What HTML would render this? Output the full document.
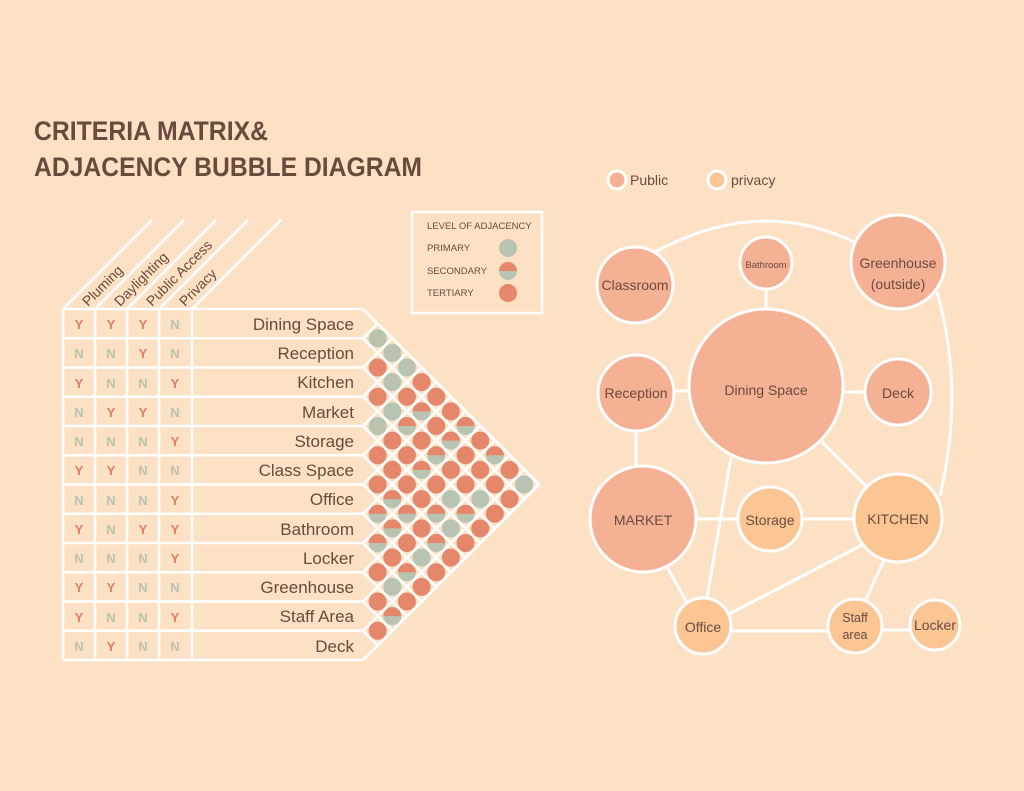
<!DOCTYPE html>
<html><head><meta charset="utf-8"><style>
html,body{margin:0;padding:0;background:#fde1c4;width:1024px;height:791px;overflow:hidden;}
svg{display:block;font-family:"Liberation Sans",sans-serif;}
</style></head><body>
<svg width="1024" height="791" viewBox="0 0 1024 791" xmlns="http://www.w3.org/2000/svg">
<defs>
<clipPath id="tri"><polygon points="363,309 539.5,484.5 363,660"/></clipPath>
<clipPath id="top"><rect x="-10" y="-10" width="20" height="10"/></clipPath>
<g id="g"><circle r="9" fill="#b8c4b1"/></g>
<g id="r"><circle r="9" fill="#e5876a"/></g>
<g id="h"><circle r="9" fill="#b8c4b1"/><circle r="9" fill="#e5876a" clip-path="url(#top)"/></g>
</defs>
<rect width="1024" height="791" fill="#fde1c4"/>
<text x="34" y="140" font-size="27" font-weight="bold" fill="#6b4a3e" textLength="234" lengthAdjust="spacingAndGlyphs">CRITERIA MATRIX&amp;</text>
<text x="34" y="176" font-size="27" font-weight="bold" fill="#6b4a3e" textLength="388" lengthAdjust="spacingAndGlyphs">ADJACENCY BUBBLE DIAGRAM</text>

<g stroke="#fff" stroke-width="2.5" fill="none">
<line x1="63" y1="309" x2="152" y2="220"/>
<line x1="95" y1="309" x2="184" y2="220"/>
<line x1="127" y1="309" x2="216" y2="220"/>
<line x1="159" y1="309" x2="248" y2="220"/>
<line x1="192" y1="309" x2="281" y2="220"/>
<line x1="63" y1="309" x2="63" y2="660"/>
<line x1="95" y1="309" x2="95" y2="660"/>
<line x1="127" y1="309" x2="127" y2="660"/>
<line x1="159" y1="309" x2="159" y2="660"/>
<line x1="192" y1="309" x2="192" y2="660"/>
<line x1="63" y1="309" x2="363" y2="309"/>
<line x1="63" y1="338.25" x2="363" y2="338.25"/>
<line x1="63" y1="367.5" x2="363" y2="367.5"/>
<line x1="63" y1="396.75" x2="363" y2="396.75"/>
<line x1="63" y1="426" x2="363" y2="426"/>
<line x1="63" y1="455.25" x2="363" y2="455.25"/>
<line x1="63" y1="484.5" x2="363" y2="484.5"/>
<line x1="63" y1="513.75" x2="363" y2="513.75"/>
<line x1="63" y1="543" x2="363" y2="543"/>
<line x1="63" y1="572.25" x2="363" y2="572.25"/>
<line x1="63" y1="601.5" x2="363" y2="601.5"/>
<line x1="63" y1="630.75" x2="363" y2="630.75"/>
<line x1="63" y1="660" x2="363" y2="660"/>
<g clip-path="url(#tri)">
<line x1="363" y1="309" x2="763" y2="709"/>
<line x1="363" y1="338.25" x2="763" y2="738.25"/><line x1="363" y1="338.25" x2="763" y2="-61.75"/>
<line x1="363" y1="367.5" x2="763" y2="767.5"/><line x1="363" y1="367.5" x2="763" y2="-32.5"/>
<line x1="363" y1="396.75" x2="763" y2="796.75"/><line x1="363" y1="396.75" x2="763" y2="-3.25"/>
<line x1="363" y1="426" x2="763" y2="826"/><line x1="363" y1="426" x2="763" y2="26"/>
<line x1="363" y1="455.25" x2="763" y2="855.25"/><line x1="363" y1="455.25" x2="763" y2="55.25"/>
<line x1="363" y1="484.5" x2="763" y2="884.5"/><line x1="363" y1="484.5" x2="763" y2="84.5"/>
<line x1="363" y1="513.75" x2="763" y2="913.75"/><line x1="363" y1="513.75" x2="763" y2="113.75"/>
<line x1="363" y1="543" x2="763" y2="943"/><line x1="363" y1="543" x2="763" y2="143"/>
<line x1="363" y1="572.25" x2="763" y2="972.25"/><line x1="363" y1="572.25" x2="763" y2="172.25"/>
<line x1="363" y1="601.5" x2="763" y2="1001.5"/><line x1="363" y1="601.5" x2="763" y2="201.5"/>
<line x1="363" y1="630.75" x2="763" y2="1030.75"/><line x1="363" y1="630.75" x2="763" y2="230.75"/>
<line x1="363" y1="660" x2="763" y2="260"/>
</g>
<polyline points="363,309 539.5,484.5 363,660"/>
</g>

<g font-size="14" fill="#6b4a3e">
<text transform="translate(88,307) rotate(-45)">Pluming</text>
<text transform="translate(120,307) rotate(-45)">Daylighting</text>
<text transform="translate(152,307) rotate(-45)">Public Access</text>
<text transform="translate(185,307) rotate(-45)">Privacy</text>
</g>

<g font-size="17" fill="#6b4a3e" text-anchor="end">
<text x="354" y="330">Dining Space</text>
<text x="354" y="359">Reception</text>
<text x="354" y="388">Kitchen</text>
<text x="354" y="418">Market</text>
<text x="354" y="447">Storage</text>
<text x="354" y="476">Class Space</text>
<text x="354" y="505">Office</text>
<text x="354" y="535">Bathroom</text>
<text x="354" y="564">Locker</text>
<text x="354" y="593">Greenhouse</text>
<text x="354" y="622">Staff Area</text>
<text x="354" y="652">Deck</text>
</g>

<g font-size="13" font-weight="bold" text-anchor="middle">
<g fill="#e07e66"><text x="79" y="329">Y</text><text x="111" y="329">Y</text><text x="143" y="329">Y</text></g><text x="175" y="329" fill="#b8c4b1">N</text>
<g fill="#b8c4b1"><text x="79" y="358">N</text><text x="111" y="358">N</text><text x="175" y="358">N</text></g><text x="143" y="358" fill="#e07e66">Y</text>
<text x="79" y="388" fill="#e07e66">Y</text><text x="111" y="388" fill="#b8c4b1">N</text><text x="143" y="388" fill="#b8c4b1">N</text><text x="175" y="388" fill="#e07e66">Y</text>
<text x="79" y="417" fill="#b8c4b1">N</text><text x="111" y="417" fill="#e07e66">Y</text><text x="143" y="417" fill="#e07e66">Y</text><text x="175" y="417" fill="#b8c4b1">N</text>
<text x="79" y="446" fill="#b8c4b1">N</text><text x="111" y="446" fill="#b8c4b1">N</text><text x="143" y="446" fill="#b8c4b1">N</text><text x="175" y="446" fill="#e07e66">Y</text>
<text x="79" y="475" fill="#e07e66">Y</text><text x="111" y="475" fill="#e07e66">Y</text><text x="143" y="475" fill="#b8c4b1">N</text><text x="175" y="475" fill="#b8c4b1">N</text>
<text x="79" y="505" fill="#b8c4b1">N</text><text x="111" y="505" fill="#b8c4b1">N</text><text x="143" y="505" fill="#b8c4b1">N</text><text x="175" y="505" fill="#e07e66">Y</text>
<text x="79" y="534" fill="#e07e66">Y</text><text x="111" y="534" fill="#b8c4b1">N</text><text x="143" y="534" fill="#e07e66">Y</text><text x="175" y="534" fill="#e07e66">Y</text>
<text x="79" y="563" fill="#b8c4b1">N</text><text x="111" y="563" fill="#b8c4b1">N</text><text x="143" y="563" fill="#b8c4b1">N</text><text x="175" y="563" fill="#e07e66">Y</text>
<text x="79" y="592" fill="#e07e66">Y</text><text x="111" y="592" fill="#e07e66">Y</text><text x="143" y="592" fill="#b8c4b1">N</text><text x="175" y="592" fill="#b8c4b1">N</text>
<text x="79" y="622" fill="#e07e66">Y</text><text x="111" y="622" fill="#b8c4b1">N</text><text x="143" y="622" fill="#b8c4b1">N</text><text x="175" y="622" fill="#e07e66">Y</text>
<text x="79" y="651" fill="#b8c4b1">N</text><text x="111" y="651" fill="#e07e66">Y</text><text x="143" y="651" fill="#b8c4b1">N</text><text x="175" y="651" fill="#b8c4b1">N</text>
</g>

<use href="#g" x="377.65" y="338.25"/><use href="#r" x="377.65" y="367.5"/><use href="#r" x="377.65" y="396.75"/><use href="#g" x="377.65" y="426"/><use href="#r" x="377.65" y="455.25"/><use href="#r" x="377.65" y="484.5"/><use href="#h" x="377.65" y="513.75"/><use href="#h" x="377.65" y="543"/><use href="#r" x="377.65" y="572.25"/><use href="#r" x="377.65" y="601.5"/><use href="#r" x="377.65" y="630.75"/>
<use href="#g" x="392.3" y="352.9"/><use href="#g" x="392.3" y="382.1"/><use href="#g" x="392.3" y="411.4"/><use href="#r" x="392.3" y="440.6"/><use href="#r" x="392.3" y="469.9"/><use href="#h" x="392.3" y="499.1"/><use href="#h" x="392.3" y="528.4"/><use href="#r" x="392.3" y="557.6"/><use href="#g" x="392.3" y="586.9"/><use href="#h" x="392.3" y="616.1"/>
<use href="#g" x="406.95" y="367.5"/><use href="#r" x="406.95" y="396.75"/><use href="#h" x="406.95" y="426"/><use href="#r" x="406.95" y="455.25"/><use href="#r" x="406.95" y="484.5"/><use href="#h" x="406.95" y="513.75"/><use href="#r" x="406.95" y="543"/><use href="#h" x="406.95" y="572.25"/><use href="#r" x="406.95" y="601.5"/>
<use href="#r" x="421.6" y="382.1"/><use href="#h" x="421.6" y="411.4"/><use href="#r" x="421.6" y="440.6"/><use href="#h" x="421.6" y="469.9"/><use href="#r" x="421.6" y="499.1"/><use href="#r" x="421.6" y="528.4"/><use href="#g" x="421.6" y="557.6"/><use href="#r" x="421.6" y="586.9"/>
<use href="#r" x="436.25" y="396.75"/><use href="#r" x="436.25" y="426"/><use href="#h" x="436.25" y="455.25"/><use href="#r" x="436.25" y="484.5"/><use href="#h" x="436.25" y="513.75"/><use href="#h" x="436.25" y="543"/><use href="#r" x="436.25" y="572.25"/>
<use href="#r" x="450.9" y="411.4"/><use href="#h" x="450.9" y="440.6"/><use href="#r" x="450.9" y="469.9"/><use href="#g" x="450.9" y="499.1"/><use href="#g" x="450.9" y="528.4"/><use href="#r" x="450.9" y="557.6"/>
<use href="#h" x="465.55" y="426"/><use href="#r" x="465.55" y="455.25"/><use href="#r" x="465.55" y="484.5"/><use href="#h" x="465.55" y="513.75"/><use href="#r" x="465.55" y="543"/>
<use href="#r" x="480.2" y="440.6"/><use href="#r" x="480.2" y="469.9"/><use href="#g" x="480.2" y="499.1"/><use href="#r" x="480.2" y="528.4"/>
<use href="#h" x="494.85" y="455.25"/><use href="#r" x="494.85" y="484.5"/><use href="#r" x="494.85" y="513.75"/>
<use href="#r" x="509.5" y="469.9"/><use href="#r" x="509.5" y="499.1"/>
<use href="#g" x="524.15" y="484.5"/>

<rect x="412" y="212" width="130" height="101" fill="none" stroke="#fff" stroke-width="2.5"/>
<g font-size="9.5" fill="#6b4a3e">
<text x="427" y="229">LEVEL OF ADJACENCY</text>
<text x="427" y="251">PRIMARY</text>
<text x="427" y="274">SECONDARY</text>
<text x="427" y="296">TERTIARY</text>
</g>
<use href="#g" x="508" y="248"/><use href="#h" x="508" y="271"/><use href="#r" x="508" y="293"/>

<g stroke="#fff" stroke-width="3" fill="none">
<path d="M655,252 Q760,195 856,243"/>
<path d="M937,292 Q965,390 940,496"/>
<line x1="766" y1="290" x2="766" y2="312"/>
<line x1="674" y1="391" x2="690" y2="391"/>
<line x1="842" y1="392" x2="866" y2="392"/>
<line x1="636" y1="431" x2="636" y2="467"/>
<line x1="822" y1="442" x2="866" y2="486"/>
<line x1="696" y1="519" x2="738" y2="519"/>
<line x1="802" y1="519" x2="854" y2="519"/>
<line x1="667" y1="567" x2="687" y2="603"/>
<line x1="731" y1="457" x2="707" y2="598"/>
<line x1="862" y1="545" x2="729" y2="614"/>
<line x1="731" y1="631" x2="828" y2="631"/>
<line x1="884" y1="560" x2="866" y2="599"/>
<line x1="882" y1="630" x2="909" y2="630"/>
</g>
<g stroke="#fff" stroke-width="3">
<circle cx="635" cy="285" r="38" fill="#f5b194"/>
<circle cx="766" cy="263" r="26" fill="#f5b194"/>
<circle cx="898" cy="262" r="47" fill="#f5b194"/>
<circle cx="766" cy="386" r="77" fill="#f5b194"/>
<circle cx="636" cy="393" r="38" fill="#f5b194"/>
<circle cx="898" cy="392" r="33" fill="#f5b194"/>
<circle cx="643" cy="519" r="53" fill="#f5b194"/>
<circle cx="770" cy="519" r="32" fill="#fbc694"/>
<circle cx="898" cy="518" r="44" fill="#fbc694"/>
<circle cx="703" cy="626" r="28" fill="#fbc694"/>
<circle cx="855" cy="626" r="27" fill="#fbc694"/>
<circle cx="935" cy="625" r="25" fill="#fbc694"/>
<circle cx="617" cy="180" r="9" fill="#f5b194"/>
<circle cx="717" cy="180" r="9" fill="#fbc694"/>
</g>
<g fill="#6b4a3e" font-size="14" text-anchor="middle">
<text x="635" y="290">Classroom</text>
<text x="766" y="268" font-size="9.5">Bathroom</text>
<text x="898" y="268">Greenhouse</text>
<text x="898" y="289">(outside)</text>
<text x="766" y="395">Dining Space</text>
<text x="636" y="398">Reception</text>
<text x="898" y="398">Deck</text>
<text x="643" y="525">MARKET</text>
<text x="770" y="525">Storage</text>
<text x="898" y="524">KITCHEN</text>
<text x="703" y="632">Office</text>
<text x="855" y="622" font-size="12.5">Staff</text>
<text x="855" y="639" font-size="12.5">area</text>
<text x="935" y="630">Locker</text>
<text x="630" y="185" text-anchor="start">Public</text>
<text x="731" y="185" text-anchor="start">privacy</text>
</g>
</svg>
</body></html>
